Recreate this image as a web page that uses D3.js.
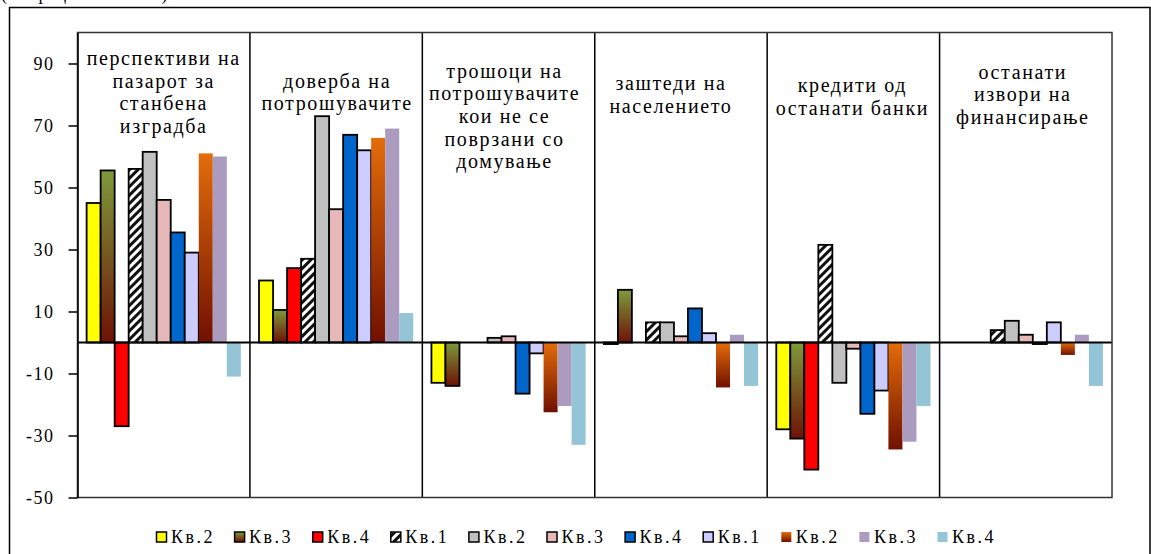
<!DOCTYPE html>
<html>
<head>
<meta charset="utf-8">
<script src="https://cdn.jsdelivr.net/npm/d3@7"></script>
<style>
  html, body { margin: 0; padding: 0; background: #fff; }
  svg { display: block; }
  text { font-family: "Liberation Serif", "Times New Roman", serif; fill: #000; }
</style>
</head>
<body>
<svg id="chart" width="1151" height="554"></svg>
<script>
// ---- data -------------------------------------------------------------
const categories = [
  "перспективи на\nпазарот за\nстанбена\nизградба",
  "доверба на\nпотрошувачите",
  "трошоци на\nпотрошувачите\nкои не се\nповрзани со\nдомување",
  "заштеди на\nнаселението",
  "кредити од\nостанати банки",
  "останати\nизвори на\nфинансирање"
];
const seriesLabels = ["Кв.2", "Кв.3", "Кв.4", "Кв.1", "Кв.2", "Кв.3", "Кв.4", "Кв.1", "Кв.2", "Кв.3", "Кв.4"];

// one array per quarter, values in category order
const s01 = [45, 20, -13, -0.5, -28, 0];
const s02 = [55.5, 10.5, -14, 17, -31, 0];
const s03 = [-27, 24, 0, 0, -41, 0];
const s04 = [56, 27, 0, 6.5, 31.5, 4];
const s05 = [61.5, 73, 1.5, 6.5, -13, 7];
const s06 = [46, 43, 2, 2, -2, 2.5];
const s07 = [35.5, 67, -16.5, 11, -23, -0.5];
const s08 = [29, 62, -3.5, 3, -15.5, 6.5];
const s09 = [61, 66, -22.5, -14.5, -34.5, -4];
const s10 = [60, 69, -20.5, 2.5, -32, 2.5];
const s11 = [-11, 9.5, -33, -14, -20.5, -14];
const seriesValues = [s01, s02, s03, s04, s05, s06, s07, s08, s09, s10, s11];

const yTicks = [-50, -30, -10, 10, 30, 50, 70, 90];
const yDomain = [-50, 100];

// ---- styles -------------------------------------------------------------
const fills = ["#FFFF00", "url(#gOlive)", "#FF0000", "url(#hatch)", "#C0C0C0", "#E6B9B8",
               "#0066CC", "#CCCCFF", "url(#gOrange)", "#AA9BBF", "#93C5D6"];
const outlined = [true, true, true, true, true, true, true, true, false, false, false];

// ---- layout -------------------------------------------------------------
const plot = { left: 77.5, right: 1112, top: 32.5, bottom: 497.5 };
const labelFirstBaseline = [65, 87.5, 77.5, 90, 92, 78.5];
const labelCenterShift = [0, 1, -4, -10, -1, -3];
const labelLineH = 22.7;

const svg = d3.select("#chart");

// definitions: gradients and the diagonal hatch
const defs = svg.append("defs");
const gOlive = defs.append("linearGradient").attr("id", "gOlive")
  .attr("x1", 0).attr("y1", 0).attr("x2", 0).attr("y2", 1);
gOlive.append("stop").attr("offset", 0).attr("stop-color", "#7E9A3B");
gOlive.append("stop").attr("offset", 1).attr("stop-color", "#6E1206");
const gOrange = defs.append("linearGradient").attr("id", "gOrange")
  .attr("x1", 0).attr("y1", 0).attr("x2", 0).attr("y2", 1);
gOrange.append("stop").attr("offset", 0).attr("stop-color", "#E46C0A");
gOrange.append("stop").attr("offset", 1).attr("stop-color", "#701000");
const hatch = defs.append("pattern").attr("id", "hatch")
  .attr("patternUnits", "userSpaceOnUse").attr("width", 6).attr("height", 6)
  .attr("patternTransform", "rotate(45)");
hatch.append("rect").attr("width", 6).attr("height", 6).attr("fill", "#fff");
hatch.append("rect").attr("width", 3).attr("height", 6).attr("fill", "#111");

// outer frame and the caption above it (runs off the top edge)
svg.append("text").attr("x", 1).attr("y", -0.5).style("font-size", "18px")
  .text("(во процентни поени)");
svg.append("rect").attr("x", 9.5).attr("y", 7.5).attr("width", 1140.5).attr("height", 600)
  .attr("fill", "none").attr("stroke", "#000").attr("stroke-width", 1.5);

// scales
const x0 = d3.scaleBand().domain(d3.range(categories.length))
  .range([plot.left, plot.right]).padding(0);
const x1 = d3.scaleBand().domain(d3.range(seriesLabels.length))
  .range([0, x0.bandwidth()]).paddingInner(0).paddingOuter(0.65);
const y = d3.scaleLinear().domain(yDomain).range([plot.bottom, plot.top]);

// bars
const barsG = svg.append("g");
seriesValues.forEach((vals, si) => {
  barsG.append("g").selectAll("rect").data(vals).join("rect")
    .attr("x", (d, ci) => x0(ci) + x1(si))
    .attr("y", d => y(Math.max(0, d)))
    .attr("width", x1.bandwidth())
    .attr("height", d => Math.abs(y(d) - y(0)))
    .attr("fill", fills[si])
    .attr("stroke", outlined[si] ? "#000" : "none")
    .attr("stroke-width", 1.8);
});

// zero line
svg.append("line").attr("x1", plot.left).attr("x2", plot.right)
  .attr("y1", y(0)).attr("y2", y(0)).attr("stroke", "#000").attr("stroke-width", 1.8);

// panel dividers
svg.append("g").selectAll("line").data(d3.range(1, categories.length)).join("line")
  .attr("x1", d => x0(d)).attr("x2", d => x0(d))
  .attr("y1", plot.top).attr("y2", plot.bottom)
  .attr("stroke", "#000").attr("stroke-width", 1.5);

// plot border
svg.append("rect").attr("x", plot.left).attr("y", plot.top)
  .attr("width", plot.right - plot.left).attr("height", plot.bottom - plot.top)
  .attr("fill", "none").attr("stroke", "#333").attr("stroke-width", 1.5);

// y axis (plain hyphen for negatives)
const axis = svg.append("g").attr("transform", `translate(${plot.left},0)`)
  .call(d3.axisLeft(y).tickValues(yTicks).tickSize(9).tickPadding(14).tickSizeOuter(0)
    .tickFormat(d => String(d)));
axis.select(".domain").attr("stroke", "#000").attr("stroke-width", 1.5);
axis.selectAll(".tick line").attr("stroke", "#000").attr("stroke-width", 1.5);
axis.selectAll(".tick text")
  .style("font-family", '"Liberation Serif", "Times New Roman", serif')
  .style("font-size", "18px").style("letter-spacing", "1.5px").attr("fill", "#000");

// category titles inside each panel
categories.forEach((c, ci) => {
  const cx = x0(ci) + x0.bandwidth() / 2 + labelCenterShift[ci];
  const t = svg.append("text").attr("text-anchor", "middle")
    .style("font-size", "20px").style("letter-spacing", "1.6px");
  c.split("\n").forEach((line, li) => {
    t.append("tspan").attr("x", cx)
      .attr("y", labelFirstBaseline[ci] + li * labelLineH).text(line);
  });
});

// legend
const legendX = d3.scalePoint().domain(d3.range(seriesLabels.length))
  .range([156, 937]);
const lg = svg.append("g");
seriesLabels.forEach((lab, si) => {
  const gx = legendX(si);
  lg.append("rect").attr("x", gx + 0.5).attr("y", 532).attr("width", 10).attr("height", 10)
    .attr("fill", fills[si])
    .attr("stroke", outlined[si] ? "#000" : "none").attr("stroke-width", 1.5);
  lg.append("text").attr("x", gx + 15).attr("y", 543)
    .style("font-size", "18px").style("letter-spacing", "2.5px").text(lab);
});
</script>
</body>
</html>
